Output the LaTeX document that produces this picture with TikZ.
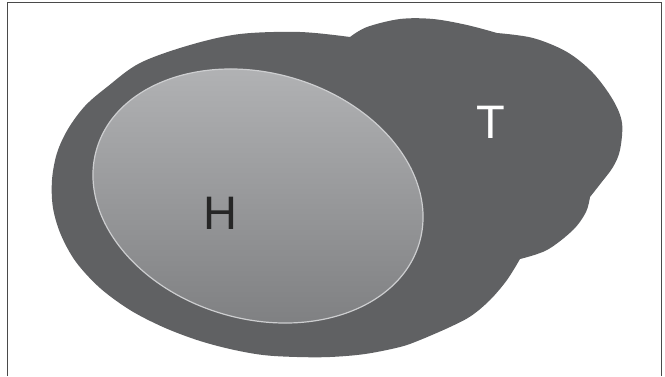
\documentclass[tikz,border=0pt]{standalone}
\usepackage{fontspec}
\setmainfont{Liberation Sans}
\definecolor{blobgray}{HTML}{606163}
\definecolor{htop}{HTML}{B4B5B7}
\definecolor{hbottom}{HTML}{7C7D7F}
\definecolor{hline}{HTML}{CDCED0}
\definecolor{framegray}{HTML}{4A4A4A}
\begin{document}
\begin{tikzpicture}[x=1pt,y=-1pt,
  letter/.style={inner sep=0pt,font=\fontsize{47}{47}\selectfont}]
\useasboundingbox (0,0) rectangle (665,376);
% frame
\draw[framegray,line width=1.3pt] (7.5,376) -- (7.5,2.5) -- (661.5,2.5) -- (661.5,376);
% T blob
\fill[blobgray]
  plot[smooth,tension=0.55] coordinates {(350,37) (367,27) (400,19) (433,19) (467,25) (497,33)}
  -- plot[smooth,tension=0.55] coordinates {(497,33) (533,38) (567,52) (593,73) (613,100) (622,123) (620,150) (613,167) (601,183) (590,197)}
  -- plot[smooth,tension=0.55] coordinates {(590,197) (586,212) (573,230) (547,250) (520,259)}
  -- plot[smooth,tension=0.55] coordinates {(520,259) (507,280) (490,300) (471,316) (450,327) (420,340) (400,347) (365,354) (330,357) (297,357) (263,355) (230,349) (197,340) (163,327) (130,310) (100,288) (76,262) (61,235) (53,208) (52,180) (57,153) (68,129) (85,106) (107,87) (140,63) (190,45) (240,34) (300,32) (350,37)}
  -- cycle;
% H ellipse
\coordinate (hc) at (258,196);
\shade[top color=htop,bottom color=hbottom,draw=hline,line width=1.2pt,
  rotate around={-16:(hc)}] (hc) ellipse [x radius=168, y radius=123];
\node[letter,text=black!85] (H) at (220,213) {H};
\node[letter,text=white] (T) at (491,122) {T};
\end{tikzpicture}
\end{document}
